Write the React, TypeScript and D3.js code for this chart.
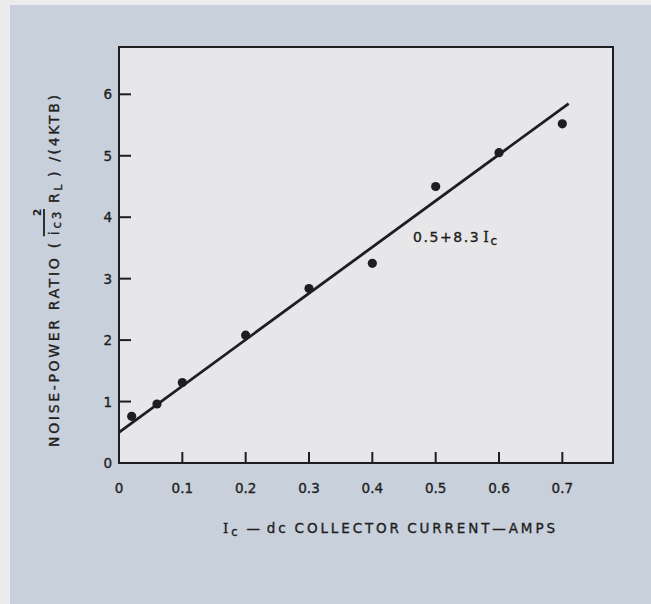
import React, { useEffect, useRef } from "react";
import * as d3 from "d3";

// ---- data ----
const xTickValues = [0, 0.1, 0.2, 0.3, 0.4, 0.5, 0.6, 0.7];
const xTickLabels = ["0", "0.1", "0.2", "0.3", "0.4", "0.5", "0.6", "0.7"];
const yTickValues = [0, 1, 2, 3, 4, 5, 6];
const yTickLabels = ["0", "1", "2", "3", "4", "5", "6"];

const collectorCurrent = [0.02, 0.06, 0.1, 0.2, 0.3, 0.4, 0.5, 0.6, 0.7];
const noisePowerRatio = [0.76, 0.96, 1.31, 2.08, 2.84, 3.25, 4.5, 5.05, 5.52];

const fitLineX = [0, 0.71];
const fitLineY = [0.5, 5.85];

const W = 651;
const H = 604;
const FONT = "'DejaVu Sans', 'Liberation Sans', sans-serif";
const SERIF = "'DejaVu Serif', 'Liberation Serif', serif";
const INK = "#1e1e20";

function fitSpacing(node: SVGTextElement, start: number, end: number, horizontal: boolean) {
  node.setAttribute("letter-spacing", "0");
  const measure = () => {
    const b = node.getBBox();
    return horizontal ? b.width : b.width;
  };
  const n = node.getNumberOfChars();
  const w0 = measure();
  const target = end - start;
  const ls = (target - w0) / Math.max(1, n - 1);
  node.setAttribute("letter-spacing", String(ls));
}

export default function App() {
  const labelRef = useRef<SVGGElement | null>(null);
  const xTitleRef = useRef<SVGTextElement | null>(null);
  const annRef = useRef<SVGTextElement | null>(null);

  const x = d3.scaleLinear().domain([0, 0.78]).range([119, 613]);
  const y = d3.scaleLinear().domain([0, 6.77]).range([463, 47]);

  const pts = collectorCurrent.map((c, i) => [c, noisePowerRatio[i]] as [number, number]);
  const fit = fitLineX.map((v, i) => [v, fitLineY[i]] as [number, number]);
  const lineGen = d3
    .line<[number, number]>()
    .x((d) => x(d[0]))
    .y((d) => y(d[1]));

  useEffect(() => {
    if (xTitleRef.current) fitSpacing(xTitleRef.current, 223, 555, true);
    if (annRef.current) fitSpacing(annRef.current, 413, 497, true);

    const g = d3.select(labelRef.current);
    g.selectAll("*").remove();
    const t = g
      .append("text")
      .attr("x", 0)
      .attr("y", 0)
      .attr("font-family", FONT)
      .attr("font-size", 14)
      .attr("fill", INK)
      .attr("stroke", INK)
      .attr("stroke-width", 0.35);
    t.append("tspan").text("NOISE-POWER RATIO (");
    t.append("tspan").attr("dx", 5).text("i");
    t.append("tspan").attr("dy", 1.5).attr("font-size", 12).text("c3");
    t.append("tspan").attr("dy", -1.5).attr("dx", 6).text("R");
    t.append("tspan").attr("dy", 3).attr("font-size", 10.5).text("L");
    t.append("tspan").attr("dy", -3).attr("dx", 5).text(") /(4KTB)");
    const node = t.node() as SVGTextElement;
    fitSpacing(node, 0, 352, true);
    const startIdx = "NOISE-POWER RATIO (".length;
    const s = node.getStartPositionOfChar(startIdx);
    const e = node.getEndPositionOfChar(startIdx + 2);
    g.append("line")
      .attr("x1", s.x - 1)
      .attr("x2", e.x)
      .attr("y1", -15)
      .attr("y2", -15)
      .attr("stroke", INK)
      .attr("stroke-width", 1.8);
    g.append("text")
      .attr("x", e.x - 7)
      .attr("y", -18)
      .attr("font-family", FONT)
      .attr("font-size", 10.5)
      .attr("font-weight", "bold")
      .attr("fill", INK)
      .text("2");
  }, []);

  const textStyle = { stroke: INK, strokeWidth: 0.35 };

  return (
    <div style={{ position: "absolute", left: 0, top: 0, width: W, height: H }}>
      <svg width={W} height={H} style={{ display: "block" }}>
        <rect x={0} y={0} width={W} height={H} fill="#c8d0dc" />
        <rect x={0} y={0} width={10} height={H} fill="#ececec" />
        <rect x={0} y={0} width={W} height={5} fill="#ececec" />
        {/* plot area */}
        <rect
          x={x(0)}
          y={y(6.77)}
          width={x(0.78) - x(0)}
          height={y(0) - y(6.77)}
          fill="#e7e7e9"
          stroke={INK}
          strokeWidth={2}
        />
        {/* x ticks */}
        {xTickValues.map((v, i) => (
          <g key={"xt" + i}>
            {v > 0 && (
              <line x1={x(v)} x2={x(v)} y1={y(0)} y2={y(0) - 11} stroke={INK} strokeWidth={2} />
            )}
            <text
              x={x(v)}
              y={493}
              textAnchor="middle"
              fontFamily={FONT}
              fontSize={13.5}
              fill={INK}
              style={textStyle}
            >
              {xTickLabels[i]}
            </text>
          </g>
        ))}
        {/* y ticks */}
        {yTickValues.map((v, i) => (
          <g key={"yt" + i}>
            {v > 0 && (
              <line x1={x(0)} x2={x(0) + 12} y1={y(v)} y2={y(v)} stroke={INK} strokeWidth={2} />
            )}
            <text
              x={112}
              y={y(v) + 5}
              textAnchor="end"
              fontFamily={FONT}
              fontSize={13.5}
              fill={INK}
              style={textStyle}
            >
              {yTickLabels[i]}
            </text>
          </g>
        ))}
        {/* fit line */}
        <path d={lineGen(fit) || ""} fill="none" stroke={INK} strokeWidth={2.8} />
        {/* points */}
        {pts.map((p, i) => (
          <circle key={"p" + i} cx={x(p[0])} cy={y(p[1])} r={4.6} fill={INK} />
        ))}
        {/* annotation */}
        <text ref={annRef} x={413} y={242} fontFamily={FONT} fontSize={14} fill={INK} style={textStyle}>
          0.5+8.3
          <tspan dx={3} fontFamily={SERIF}>I</tspan>
          <tspan dy={3} fontSize={12}>c</tspan>
        </text>
        {/* x axis title */}
        <text ref={xTitleRef} x={223} y={533} fontFamily={FONT} fontSize={13.5} fill={INK} style={textStyle}>
          <tspan fontFamily={SERIF}>I</tspan>
          <tspan dy={3} fontSize={11.5}>c</tspan>
          <tspan dy={-3} dx={6}>—</tspan>
          <tspan dx={4}>dc</tspan>
          <tspan dx={6}>COLLECTOR</tspan>
          <tspan dx={6}>CURRENT—AMPS</tspan>
        </text>
        {/* y axis title */}
        <g ref={labelRef} transform="translate(59,447) rotate(-90)" />
      </svg>
    </div>
  );
}
